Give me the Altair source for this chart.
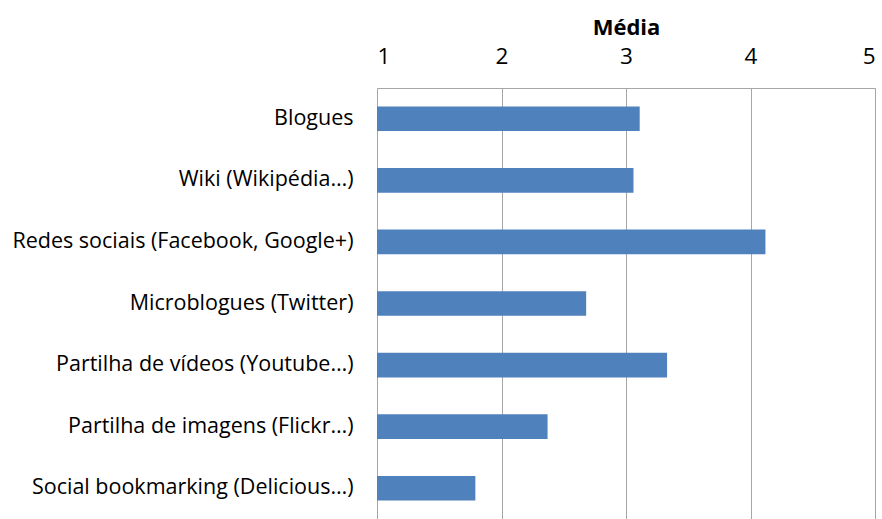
import altair as alt
import pandas as pd

categories = [
    "Blogues",
    "Wiki (Wikipédia…)",
    "Redes sociais (Facebook, Google+)",
    "Microblogues (Twitter)",
    "Partilha de vídeos (Youtube…)",
    "Partilha de imagens (Flickr…)",
    "Social bookmarking (Delicious…)",
]
values = [3.11, 3.06, 4.12, 2.68, 3.33, 2.37, 1.79]
x_ticks = [1, 2, 3, 4, 5]

df = pd.DataFrame({"cat": categories, "media": values})

FONT = "Open Sans"

chart = (
    alt.Chart(df)
    .mark_bar(color="#4f81bd")
    .encode(
        y=alt.Y(
            "cat:N",
            sort=categories,
            scale=alt.Scale(paddingInner=0.6, paddingOuter=0.3),
            axis=alt.Axis(
                title=None,
                domain=False,
                ticks=False,
                labelFontSize=21.5,
                labelFont=FONT,
                labelColor="#000000",
                labelPadding=24,
                labelLimit=400,
            ),
        ),
        x=alt.X(
            "media:Q",
            scale=alt.Scale(domain=[1, 5], nice=False, zero=False),
            axis=alt.Axis(
                orient="top",
                title="Média",
                values=x_ticks,
                format="d",
                ticks=False,
                tickSize=0,
                domain=True,
                domainColor="#a6a6a6",
                gridColor="#a6a6a6",
                labelFontSize=22.5,
                labelFont=FONT,
                labelColor="#000000",
                labelPadding=19.5,
                titleFont=FONT,
                titleFontSize=22,
                titleFontWeight="bold",
                titleColor="#000000",
                titlePadding=6,
            ),
        ),
        x2=alt.datum(1),
    )
    .properties(
        width=498,
        height=431,
        autosize=alt.AutoSizeParams(type="none"),
        padding={"left": 377, "top": 88, "right": 7, "bottom": 0},
    )
    .configure_view(stroke=None)
    .configure(background="#ffffff")
)

chart.save("out.html", embed_options={"renderer": "svg", "actions": False})
